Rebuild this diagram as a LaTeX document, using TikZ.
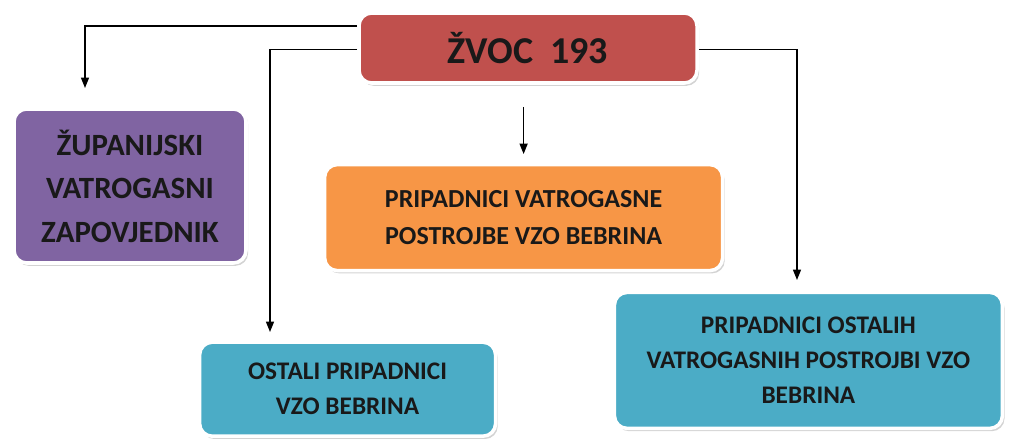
\documentclass[tikz,border=0pt]{standalone}
\usepackage{fontspec}
\setmainfont{Carlito}
\usepackage{tikz}
\usetikzlibrary{calc, positioning, arrows.meta, shadows}
\usepackage{xcolor}
\definecolor{zvocRed}{RGB}{192, 80, 77}
\definecolor{zupPurple}{RGB}{128, 100, 162}
\definecolor{vzoOrange}{RGB}{247, 150, 70}
\definecolor{ostTeal}{RGB}{75, 172, 198}

\begin{document}
\begin{tikzpicture}[
  every node/.style={rounded corners=9pt, draw=white, line width=2.5pt, align=center,
    font=\bfseries, text=black!90, inner sep=2pt,
    drop shadow={opacity=0.35, shadow xshift=1.5pt, shadow yshift=-2pt}},
  >={Triangle[length=2.6mm, width=2mm]}
]
  \useasboundingbox (0,0) rectangle (25.225,-10.975);

  % --- Top: ŽVOC ---
  \node[fill=zvocRed, minimum width=8.45cm, minimum height=1.75cm,
    font=\fontsize{27}{31}\selectfont\bfseries] (zvoc) at (13.2,-1.2) {ŽVOC~~193};

  % --- Second row ---
  \node[fill=zupPurple, minimum width=5.8cm, minimum height=3.85cm,
    font=\fontsize{22}{31}\selectfont\bfseries] (zup) at (3.25,-4.65)
    {ŽUPANIJSKI\\VATROGASNI\\ZAPOVJEDNIK};
  \node[fill=vzoOrange, minimum width=9.95cm, minimum height=2.65cm,
    font=\fontsize{18.5}{26}\selectfont\bfseries] (vzo) at (13.09,-5.44)
    {PRIPADNICI VATROGASNE\\POSTROJBE VZO BEBRINA};

  % --- Bottom row ---
  \node[fill=ostTeal, minimum width=7.4cm, minimum height=2.35cm,
    font=\fontsize{18}{25}\selectfont\bfseries] (ostali) at (8.69,-9.73)
    {OSTALI PRIPADNICI\\VZO BEBRINA};
  \node[fill=ostTeal, minimum width=9.7cm, minimum height=3.4cm,
    font=\fontsize{18}{25}\selectfont\bfseries] (postr) at (20.21,-9.01)
    {PRIPADNICI OSTALIH\\VATROGASNIH POSTROJBI VZO\\BEBRINA};

  % free arrow ends
  \coordinate (zup-in) at (2.125,-2.2);
  \coordinate (ostali-in) at (6.75,-8.3);
  \coordinate (postr-in) at (19.925,-7.0);

  % --- Connectors ---
  \draw[->, line width=1pt] ($(zvoc.north west)!0.2!(zvoc.south west)$) -| (zup-in);
  \draw[->, line width=1pt] ($(zvoc.north west)!0.52!(zvoc.south west)$) -| (ostali-in);
  \draw[->, line width=1pt] ($(vzo.north |- zvoc.south)+(0,-0.55)$) -- ($(vzo.north)+(0,0.22)$);
  \draw[->, line width=1pt] ($(zvoc.north east)!0.52!(zvoc.south east)$) -| (postr-in);
\end{tikzpicture}
\end{document}
